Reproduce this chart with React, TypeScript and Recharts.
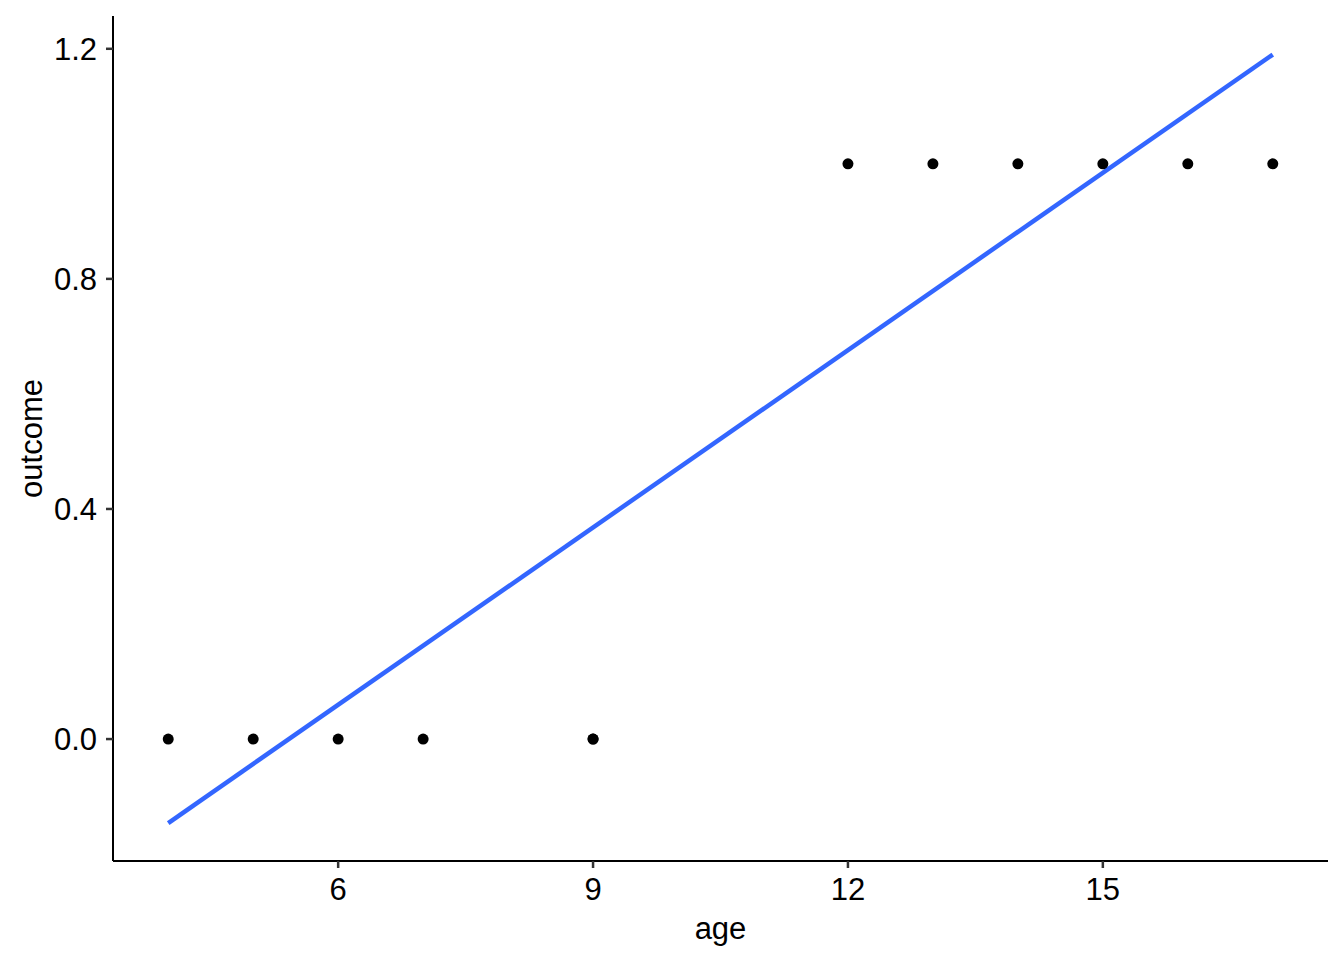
import { ComposedChart, Scatter, Line, XAxis, YAxis, Label } from "recharts";

// observed points (age, outcome)
const ages = [4, 5, 6, 7, 9, 9, 12, 13, 14, 15, 16, 17];
const outcomes = [0, 0, 0, 0, 0, 0, 1, 1, 1, 1, 1, 1];

// fitted line endpoints
const fitAges = [4, 17];
const fitValues = [-0.146, 1.19];

const xTicks = [6, 9, 12, 15];
const yTicks = [0, 0.4, 0.8, 1.2];

const points = ages.map((age, i) => ({ age, outcome: outcomes[i] }));
const fitLine = fitAges.map((age, i) => ({ age, fit: fitValues[i] }));

const FONT = "'Liberation Sans', Arial, sans-serif";

const Dot = (props: any) => {
  const { cx, cy } = props;
  return <circle cx={cx} cy={cy} r={5.5} fill="#000000" />;
};

const YTitle = (props: any) => {
  const { x, y, height } = props.viewBox;
  const cx = x + 42;
  const cy = y + height / 2;
  return (
    <text
      x={cx}
      y={cy}
      transform={`rotate(-90 ${cx} ${cy})`}
      textAnchor="middle"
      fontSize={31}
      fontFamily={FONT}
      fill="#000"
    >
      outcome
    </text>
  );
};

const XTitle = (props: any) => {
  const { x, y, width } = props.viewBox;
  return (
    <text
      x={x + width / 2}
      y={y + 78}
      textAnchor="middle"
      fontSize={31}
      fontFamily={FONT}
      fill="#000"
    >
      age
    </text>
  );
};

export default function App() {
  return (
    <div style={{ position: "absolute", top: 0, left: 0, background: "#fff" }}>
      <ComposedChart
        width={1344}
        height={960}
        margin={{ top: 16, right: 16, left: 0, bottom: 0 }}
      >
        <XAxis
          type="number"
          dataKey="age"
          domain={[3.35, 17.65]}
          ticks={xTicks}
          allowDataOverflow
          height={99}
          tickSize={7}
          tickMargin={10}
          axisLine={{ stroke: "#000", strokeWidth: 2 }}
          tickLine={{ stroke: "#333", strokeWidth: 2.5 }}
          tick={{ fill: "#000", fontSize: 31, fontFamily: FONT }}
        >
          <Label content={<XTitle />} />
        </XAxis>
        <YAxis
          type="number"
          domain={[-0.212, 1.257]}
          ticks={yTicks}
          allowDataOverflow
          width={113}
          tickSize={7}
          tickMargin={9}
          tickFormatter={(v: number) => v.toFixed(1)}
          axisLine={{ stroke: "#000", strokeWidth: 2 }}
          tickLine={{ stroke: "#333", strokeWidth: 2.5 }}
          tick={{ fill: "#000", fontSize: 31, fontFamily: FONT }}
        >
          <Label content={<YTitle />} />
        </YAxis>
        <Scatter
          data={points}
          dataKey="outcome"
          shape={<Dot />}
          isAnimationActive={false}
        />
        <Line
          data={fitLine}
          dataKey="fit"
          type="linear"
          stroke="#3366FF"
          strokeWidth={4.5}
          dot={false}
          activeDot={false}
          isAnimationActive={false}
        />
      </ComposedChart>
    </div>
  );
}
